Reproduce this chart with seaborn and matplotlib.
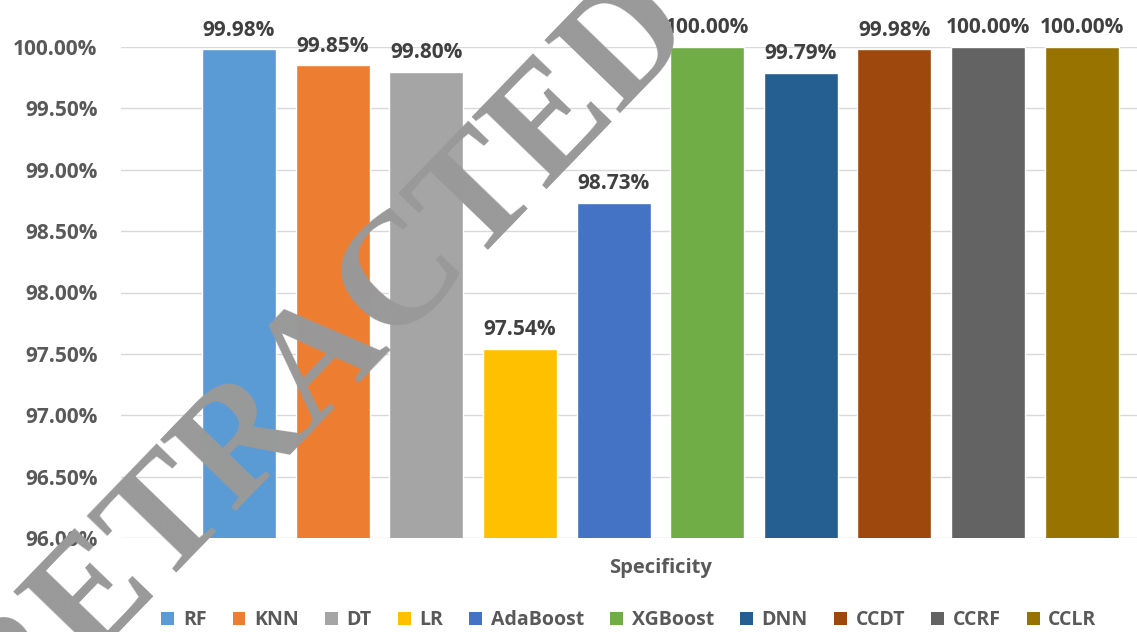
import matplotlib
matplotlib.use("Agg")
import matplotlib.pyplot as plt
from matplotlib.patches import Patch
import pandas as pd
import seaborn as sns

# Specificity of each model (percent)
models = ["RF", "KNN", "DT", "LR", "AdaBoost", "XGBoost", "DNN", "CCDT", "CCRF", "CCLR"]
specificity = [99.98, 99.85, 99.80, 97.54, 98.73, 100.00, 99.79, 99.98, 100.00, 100.00]
colors = ["#5B9BD5", "#ED7D31", "#A5A5A5", "#FFC000", "#4472C4",
          "#70AD47", "#255E91", "#9E480E", "#636363", "#997300"]
y_ticks = [96.0, 96.5, 97.0, 97.5, 98.0, 98.5, 99.0, 99.5, 100.0]

sns.set_theme(style="white")
plt.rcParams["font.family"] = ["Open Sans", "DejaVu Sans"]

df = pd.DataFrame({"model": models, "specificity": specificity})

W, H = 1137, 632
fig = plt.figure(figsize=(W / 100, H / 100), dpi=100)
ax = fig.add_axes([121 / W, 1 - 538 / H, 1 - 121 / W, (538 - 47) / H])

sns.barplot(data=df, x="model", y="specificity", hue="model", order=models,
            hue_order=models, palette=colors, saturation=1, width=0.79,
            legend=False, dodge=False, ax=ax, zorder=3)

ax.set_ylim(96, 100)
ax.set_xlim(-1.26, 9.59)
ax.set_yticks(y_ticks)
ax.set_yticklabels([f"{t:.2f}%" for t in y_ticks])
ax.set_xticks([])
ax.set_xlabel("")
ax.set_ylabel("")
ax.grid(axis="y", color="#d9d9d9", linewidth=1.0, zorder=0)
ax.set_axisbelow(True)
for s in ax.spines.values():
    s.set_visible(False)
ax.tick_params(axis="y", length=0, pad=17, labelsize=15, labelcolor="#595959")
for lbl in ax.get_yticklabels():
    lbl.set_fontweight("bold")

# value labels above bars
for i, v in enumerate(specificity):
    ax.annotate(f"{v:.2f}%", xy=(i, v), xytext=(0, 10), textcoords="offset points",
                ha="center", va="baseline", fontsize=15, fontweight="bold",
                color="#404040", annotation_clip=False)

fig.text(661 / W, 1 - 568 / H, "Specificity", ha="center", va="center",
         fontsize=14.5, fontweight="bold", color="#595959")

handles = [Patch(facecolor=c, edgecolor="none", label=m) for m, c in zip(models, colors)]
leg = fig.legend(handles=handles, loc="center", bbox_to_anchor=(629 / W, 1 - 620 / H),
                 ncol=10, frameon=False, fontsize=14, handlelength=0.65,
                 handleheight=0.65, handletextpad=0.45, columnspacing=1.35,
                 borderaxespad=0, borderpad=0)
for t in leg.get_texts():
    t.set_fontweight("bold")
    t.set_color("#595959")

# watermark
fig.text(352 / W, 1 - 388 / H, "RETRACTED", rotation=46, rotation_mode="anchor",
         ha="center", va="baseline", fontsize=114, family="Liberation Serif",
         fontweight="bold", color="#999999", zorder=10)

fig.savefig("out.png", dpi=100)
